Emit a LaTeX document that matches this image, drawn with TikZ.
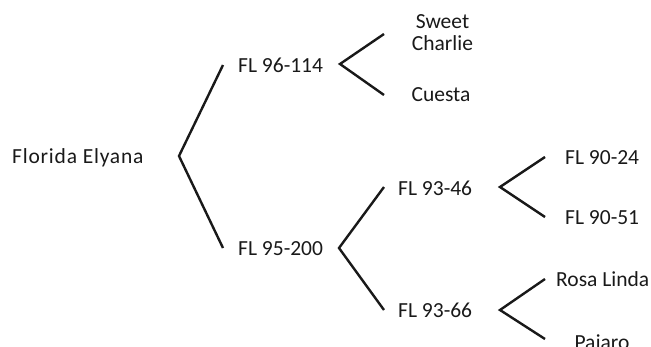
\documentclass[tikz,border=0pt]{standalone}
\usepackage{fontspec}
\setmainfont{Carlito}
\begin{document}
\begin{tikzpicture}[x=1pt,y=-1pt,
  lbl/.style={inner sep=0pt,font=\fontsize{21.5}{22.4}\selectfont,text=black!90},
  branch/.style={line width=2.4pt,black!90,line join=miter}]
\useasboundingbox (0,0) rectangle (651,346);

% labels (placed by their baselines)
\node[lbl,anchor=base west,font=\fontsize{21.5}{22.4}\selectfont\addfontfeatures{LetterSpace=3.7}] (root) at (12,163) {Florida Elyana};
\node[lbl,anchor=base west] (a) at (238,72) {FL 96-114};
\node[lbl,anchor=base west] (b) at (238,255) {FL 95-200};
\node[lbl,anchor=base] (sw) at (442.5,28.5) {Sweet};
\node[lbl,anchor=base] (ch) at (442.5,50.8) {Charlie};
\node[lbl,anchor=base] (cu) at (441,101) {Cuesta};
\node[lbl,anchor=base west] (c) at (398,195) {FL 93-46};
\node[lbl,anchor=base west] (d) at (398,317) {FL 93-66};
\node[lbl,anchor=base west] (e) at (565,164) {FL 90-24};
\node[lbl,anchor=base west] (f) at (565,224) {FL 90-51};
\node[lbl,anchor=base west] (g) at (556,286) {Rosa Linda};
\node[lbl,anchor=base] (h) at (602,349) {Pajaro};

% branch points and branch ends
\coordinate (v0) at (179,156);
\coordinate (v0t) at (223,65);
\coordinate (v0b) at (223,248);
\coordinate (va) at (340,64);
\coordinate (vat) at (384,34);
\coordinate (vab) at (384,95);
\coordinate (vb) at (339,248);
\coordinate (vbt) at (384,187);
\coordinate (vbb) at (384,310);
\coordinate (vc) at (500,187);
\coordinate (vct) at (545,157);
\coordinate (vcb) at (545,217);
\coordinate (vd) at (500,310);
\coordinate (vdt) at (545,279);
\coordinate (vdb) at (545,339);

% branches
\draw[branch] (v0t) -- (v0) -- (v0b);
\draw[branch] (vat) -- (va) -- (vab);
\draw[branch] (vbt) -- (vb) -- (vbb);
\draw[branch] (vct) -- (vc) -- (vcb);
\draw[branch] (vdt) -- (vd) -- (vdb);
\end{tikzpicture}
\end{document}
